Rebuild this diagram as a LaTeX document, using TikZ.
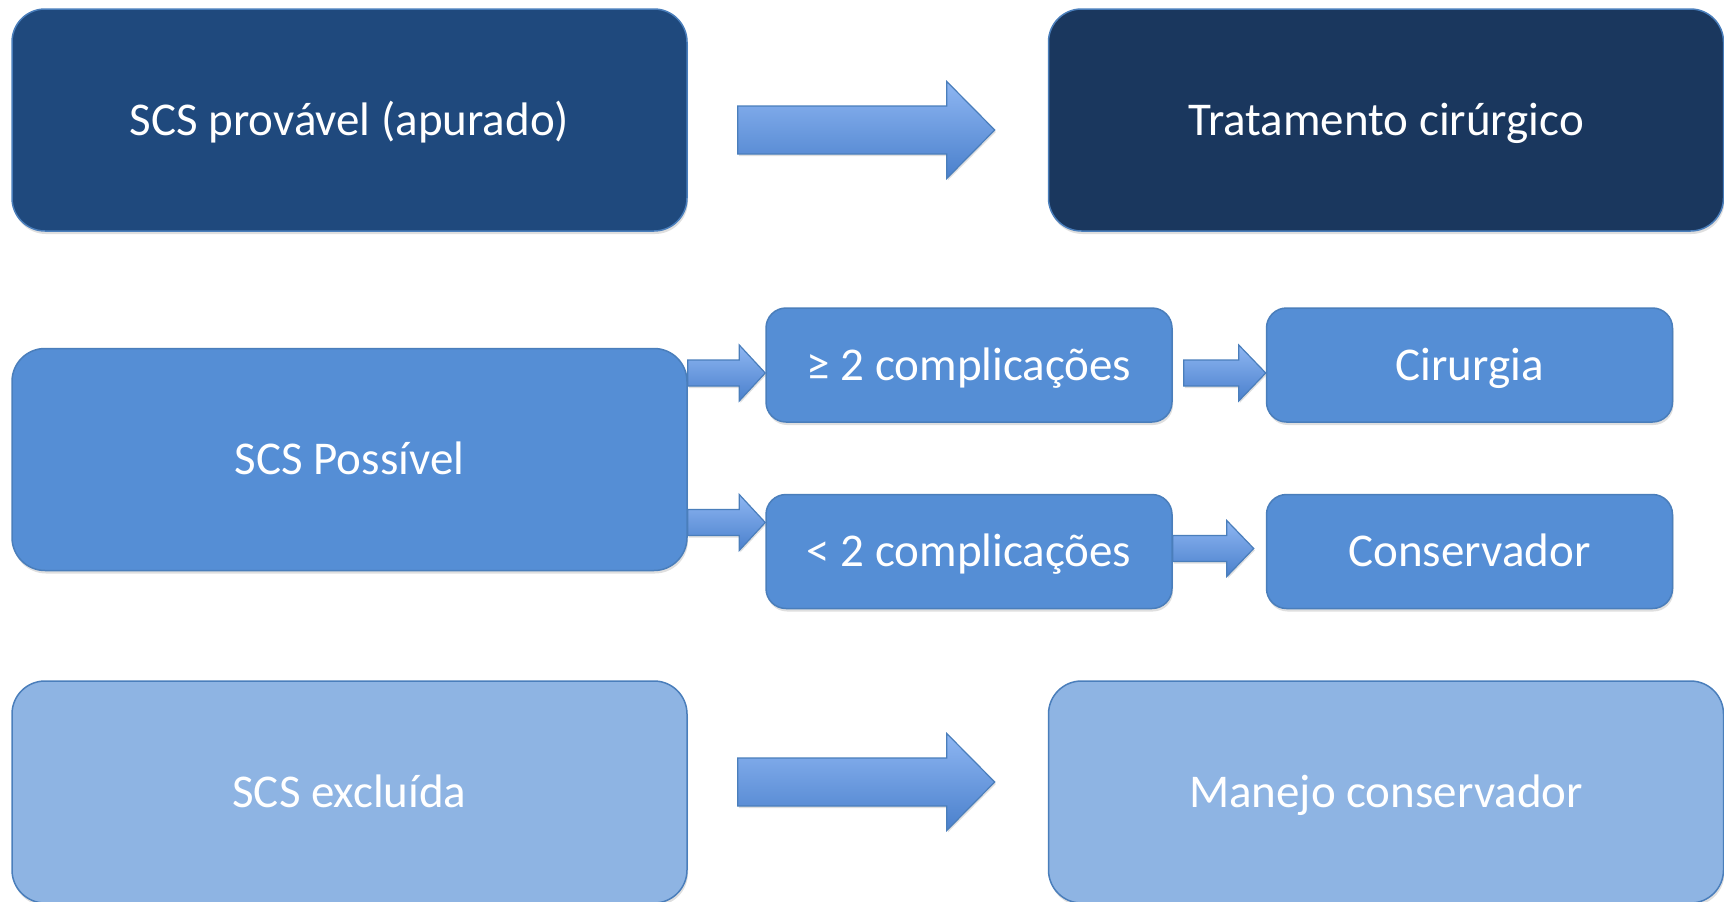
\documentclass[tikz,border=0pt]{standalone}
\usepackage{fontspec}
\setmainfont{Carlito}
\usetikzlibrary{positioning,calc,shadows}

\definecolor{darkbox}{HTML}{1F497D}
\definecolor{darkerbox}{HTML}{1A375E}
\definecolor{midbox}{HTML}{558ED5}
\definecolor{lightbox}{HTML}{8EB4E3}
\definecolor{boxline}{HTML}{4A7EBB}
\definecolor{arrowtop}{HTML}{8EB6F2}
\definecolor{arrowbot}{HTML}{4A80CC}

% block arrow: from, to, shaft half width, head half width, head length
\newcommand{\blockarrow}[5]{%
    \path[arrowshape] let \p1 = (#1), \p2 = (#2) in
        ({\x1}, {\y1+#3}) -- ({\x2-#5}, {\y1+#3}) -- ({\x2-#5}, {\y1+#4}) -- ({\x2}, {\y1})
        -- ({\x2-#5}, {\y1-#4}) -- ({\x2-#5}, {\y1-#3}) -- ({\x1}, {\y1-#3}) -- cycle;
}

\begin{document}
\begin{tikzpicture}[x=1pt, y=-1pt]
            \tikzstyle{every node} = [align=center, text=white, inner sep=0pt, text height=30pt, text depth=0pt, font=\fontsize{47}{56}\selectfont]
            \tikzstyle{bigbox} = [draw=boxline, line width=1.5pt, rounded corners=33pt, minimum width=675pt, minimum height=222pt, drop shadow={opacity=0.25, shadow xshift=1pt, shadow yshift=-3pt}]
            \tikzstyle{smallbox} = [bigbox, rounded corners=20pt, minimum width=406pt, minimum height=114pt]
            \tikzstyle{arrowshape} = [draw=boxline, line width=1.2pt, top color=arrowtop, bottom color=arrowbot, drop shadow={opacity=0.25, shadow xshift=1pt, shadow yshift=-2pt}]
            \useasboundingbox (0,0) rectangle (1724,902);

            \node[bigbox, fill=darkbox] (apurado) at (349.5,120) {SCS provável (apurado)};
            \node[bigbox, fill=darkerbox, right=360pt of apurado] (cirurgico) {Tratamento cirúrgico};
            \node[bigbox, fill=midbox, below=116pt of apurado] (possivel) {SCS Possível};
            \node[bigbox, fill=lightbox, below=109pt of possivel] (excluida) {SCS excluída};
            \node[bigbox, fill=lightbox, right=360pt of excluida] (manejo) {Manejo conservador};

            \node[smallbox, fill=midbox] (mais) at (969,365) {≥ 2 complicações};
            \node[smallbox, fill=midbox, right=93pt of mais] (cirurgia) {Cirurgia};
            \node[smallbox, fill=midbox, below=71pt of mais] (menos) {< 2 complicações};
            \node[smallbox, fill=midbox, right=93pt of menos] (conservador) {Conservador};

            \blockarrow{$(apurado.east)+(50,10)$}{$(cirurgico.west)+(-53,0)$}{24pt}{48.5pt}{48pt}
            \blockarrow{$(excluida.east)+(50,-10)$}{$(manejo.west)+(-53,0)$}{24pt}{48.5pt}{48pt}
            \blockarrow{$(possivel.east |- mais.west)+(0,8)$}{mais.west}{13pt}{28pt}{26pt}
            \blockarrow{$(possivel.east |- menos.west)+(0,-29)$}{menos.west}{13pt}{28pt}{26pt}
            \blockarrow{$(mais.east)+(11,8)$}{cirurgia.west}{13pt}{28pt}{27pt}
            \blockarrow{$(menos.east)+(0,-3)$}{$(conservador.west)+(-12,0)$}{13pt}{28pt}{27pt}
      \end{tikzpicture}
\end{document}
